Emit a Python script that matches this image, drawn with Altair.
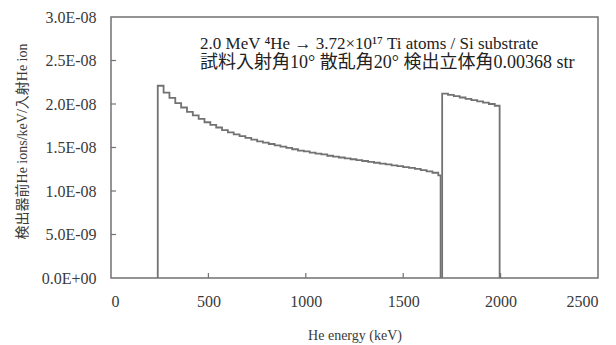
import altair as alt
import pandas as pd

# Si substrate spectrum: bin start energies (keV) and counts (x1e-8)
si_starts = [240, 270, 300, 330, 360, 390, 420, 450, 480, 510, 540, 570, 600, 630, 660, 690,
             720, 750, 780, 810, 840, 870, 900, 930, 960, 990, 1020, 1050, 1080, 1110, 1140,
             1170, 1200, 1230, 1260, 1290, 1320, 1350, 1380, 1410, 1440, 1470, 1500, 1530,
             1560, 1590, 1620, 1650, 1680]
si_vals = [2.21, 2.13, 2.07, 2.01, 1.96, 1.91, 1.87, 1.83, 1.79, 1.76, 1.73, 1.70, 1.675, 1.65,
           1.63, 1.61, 1.59, 1.57, 1.555, 1.54, 1.525, 1.51, 1.495, 1.48, 1.465, 1.455, 1.44,
           1.43, 1.42, 1.405, 1.395, 1.385, 1.375, 1.365, 1.355, 1.345, 1.335, 1.325, 1.315,
           1.305, 1.295, 1.285, 1.275, 1.265, 1.255, 1.24, 1.225, 1.21, 1.18]
si_end = 1692

# Ti layer peak
ti_starts = [1700, 1730, 1760, 1790, 1820, 1850, 1880, 1910, 1940, 1970]
ti_vals = [2.12, 2.105, 2.09, 2.075, 2.06, 2.045, 2.03, 2.015, 2.0, 1.98]
ti_end = 1995

x_ticks = [0, 500, 1000, 1500, 2000, 2500]
y_ticks = [0, 5e-9, 1e-8, 1.5e-8, 2e-8, 2.5e-8, 3e-8]

line1 = "2.0 MeV \u2074He \u2192 3.72\u00d710\u00b9\u2077 Ti atoms / Si substrate"
line2 = "試料入射角10°  散乱角20°  検出立体角0.00368 str"


def histo_path(starts, vals, end, name):
    edges = list(starts) + [end]
    pts = [(edges[0], 0.0)]
    for i, v in enumerate(vals):
        pts.append((edges[i], v * 1e-8))
        pts.append((edges[i + 1], v * 1e-8))
    pts.append((edges[-1], 0.0))
    return pd.DataFrame({"E": [p[0] for p in pts], "C": [p[1] for p in pts],
                         "o": list(range(len(pts))), "s": name})


df = pd.concat([histo_path(si_starts, si_vals, si_end, "Si"),
                histo_path(ti_starts, ti_vals, ti_end, "Ti")])

SERIF = "Liberation Serif, Noto Sans CJK JP"
GRAY = "#727272"
TXT = "#3a3a3a"

xs = alt.Scale(domain=[0, 2500], nice=False, zero=False)
ys = alt.Scale(domain=[0, 3e-8], nice=False)

label_expr = "replace(replace(format(datum.value, '.1e'), 'e-', 'E-0'), 'e+', 'E+0')"

spec = alt.Chart(df).mark_line(color=GRAY, strokeWidth=1.8).encode(
    x=alt.X("E:Q", scale=xs, axis=alt.Axis(values=x_ticks, title="He energy (keV)",
            labelPadding=15, titlePadding=19, format="d")),
    y=alt.Y("C:Q", scale=ys, axis=alt.Axis(values=y_ticks, title="検出器前He ions/keV/入射He ion",
            labelExpr=label_expr, labelPadding=15, titlePadding=12, titleY=124)),
    detail="s:N",
    order="o:Q",
)

xt = pd.DataFrame({"x": x_ticks[1:-1]})
xtick = alt.Chart(xt).mark_rule(color=GRAY, strokeWidth=1.2).encode(
    x=alt.X("x:Q", scale=xs), y=alt.value(261), y2=alt.value(256))

yt = pd.DataFrame({"y": y_ticks[1:-1]})
ytick = alt.Chart(yt).mark_rule(color=GRAY, strokeWidth=1.2).encode(
    y=alt.Y("y:Q", scale=ys), x=alt.value(0), x2=alt.value(5))

ann = pd.DataFrame({"E": [457, 457], "C": [2.69e-8, 2.47e-8], "t": [line1, line2],
                    "fs": [17, 18]})
text = alt.Chart(ann).mark_text(align="left", baseline="middle", font=SERIF,
                               color="#222222").encode(
    x=alt.X("E:Q", scale=xs), y=alt.Y("C:Q", scale=ys), text="t:N",
    size=alt.Size("fs:Q", scale=None, legend=None))

chart = alt.layer(spec, xtick, ytick, text).properties(
    width=487, height=261, autosize="none", background="white",
    padding={"left": 111, "top": 17, "right": 18, "bottom": 67},
).configure_view(stroke=GRAY, strokeWidth=1.5).configure_axis(
    domain=False, ticks=False, grid=False, labelFont=SERIF, labelFontSize=16,
    labelColor=TXT, titleFont=SERIF, titleFontSize=14, titleFontWeight="normal",
    titleColor=TXT,
)

chart.save("out.html", embed_options={"renderer": "svg", "actions": False})
